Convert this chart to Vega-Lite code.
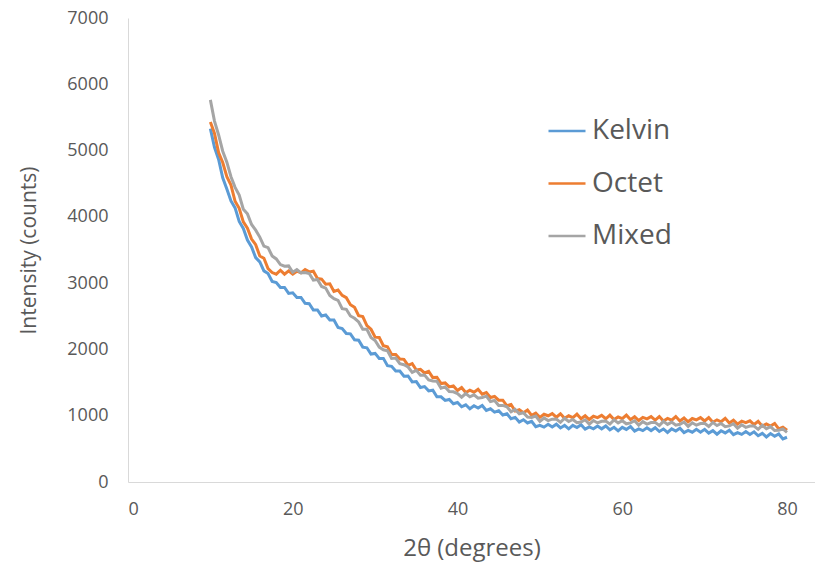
{
  "$schema": "https://vega.github.io/schema/vega-lite/v6.json",
  "width": 687,
  "height": 464,
  "autosize": "none",
  "padding": {"left": 128, "top": 18, "right": 0, "bottom": 84},
  "background": "white",
  "config": {
    "view": {"stroke": null},
    "font": "Open Sans",
    "axis": {
      "domainColor": "#d9d9d9",
      "domainWidth": 1,
      "ticks": false,
      "grid": false,
      "labelColor": "#595959",
      "labelFont": "Open Sans",
      "labelFontSize": 18,
      "titleColor": "#595959",
      "titleFont": "Open Sans",
      "titleFontWeight": "normal"
    },
    "legend": {
      "labelFont": "Open Sans",
      "labelFontSize": 28,
      "labelColor": "#595959"
    }
  },
  "data": {
    "values": [
      {"t":10,"Kelvin":5330,"Octet":5430,"Mixed":5765},
      {"t":10.5,"Kelvin":5050,"Octet":5260,"Mixed":5445},
      {"t":11,"Kelvin":4865,"Octet":4970,"Mixed":5235},
      {"t":11.5,"Kelvin":4590,"Octet":4820,"Mixed":4990},
      {"t":12,"Kelvin":4420,"Octet":4605,"Mixed":4825},
      {"t":12.5,"Kelvin":4240,"Octet":4480,"Mixed":4605},
      {"t":13,"Kelvin":4135,"Octet":4235,"Mixed":4445},
      {"t":13.5,"Kelvin":3930,"Octet":4130,"Mixed":4330},
      {"t":14,"Kelvin":3825,"Octet":3925,"Mixed":4115},
      {"t":14.5,"Kelvin":3650,"Octet":3830,"Mixed":4045},
      {"t":15,"Kelvin":3545,"Octet":3665,"Mixed":3885},
      {"t":15.5,"Kelvin":3385,"Octet":3580,"Mixed":3800},
      {"t":16,"Kelvin":3320,"Octet":3410,"Mixed":3695},
      {"t":16.5,"Kelvin":3185,"Octet":3375,"Mixed":3560},
      {"t":17,"Kelvin":3145,"Octet":3220,"Mixed":3535},
      {"t":17.5,"Kelvin":3025,"Octet":3160,"Mixed":3410},
      {"t":18,"Kelvin":3010,"Octet":3135,"Mixed":3365},
      {"t":18.5,"Kelvin":2935,"Octet":3195,"Mixed":3280},
      {"t":19,"Kelvin":2935,"Octet":3135,"Mixed":3255},
      {"t":19.5,"Kelvin":2845,"Octet":3185,"Mixed":3260},
      {"t":20,"Kelvin":2855,"Octet":3135,"Mixed":3165},
      {"t":20.5,"Kelvin":2785,"Octet":3180,"Mixed":3205},
      {"t":21,"Kelvin":2785,"Octet":3155,"Mixed":3155},
      {"t":21.5,"Kelvin":2695,"Octet":3205,"Mixed":3160},
      {"t":22,"Kelvin":2690,"Octet":3170,"Mixed":3145},
      {"t":22.5,"Kelvin":2595,"Octet":3180,"Mixed":3045},
      {"t":23,"Kelvin":2595,"Octet":3070,"Mixed":3055},
      {"t":23.5,"Kelvin":2505,"Octet":3060,"Mixed":2950},
      {"t":24,"Kelvin":2520,"Octet":2985,"Mixed":2925},
      {"t":24.5,"Kelvin":2445,"Octet":2990,"Mixed":2815},
      {"t":25,"Kelvin":2445,"Octet":2875,"Mixed":2765},
      {"t":25.5,"Kelvin":2330,"Octet":2895,"Mixed":2740},
      {"t":26,"Kelvin":2315,"Octet":2815,"Mixed":2615},
      {"t":26.5,"Kelvin":2240,"Octet":2780,"Mixed":2605},
      {"t":27,"Kelvin":2235,"Octet":2675,"Mixed":2505},
      {"t":27.5,"Kelvin":2145,"Octet":2635,"Mixed":2470},
      {"t":28,"Kelvin":2140,"Octet":2510,"Mixed":2415},
      {"t":28.5,"Kelvin":2035,"Octet":2495,"Mixed":2305},
      {"t":29,"Kelvin":2025,"Octet":2360,"Mixed":2305},
      {"t":29.5,"Kelvin":1930,"Octet":2305,"Mixed":2180},
      {"t":30,"Kelvin":1940,"Octet":2185,"Mixed":2135},
      {"t":30.5,"Kelvin":1865,"Octet":2180,"Mixed":2035},
      {"t":31,"Kelvin":1865,"Octet":2055,"Mixed":1995},
      {"t":31.5,"Kelvin":1755,"Octet":2040,"Mixed":1980},
      {"t":32,"Kelvin":1745,"Octet":1925,"Mixed":1865},
      {"t":32.5,"Kelvin":1675,"Octet":1925,"Mixed":1870},
      {"t":33,"Kelvin":1675,"Octet":1855,"Mixed":1785},
      {"t":33.5,"Kelvin":1595,"Octet":1850,"Mixed":1770},
      {"t":34,"Kelvin":1600,"Octet":1760,"Mixed":1735},
      {"t":34.5,"Kelvin":1510,"Octet":1785,"Mixed":1655},
      {"t":35,"Kelvin":1515,"Octet":1690,"Mixed":1685},
      {"t":35.5,"Kelvin":1425,"Octet":1700,"Mixed":1610},
      {"t":36,"Kelvin":1440,"Octet":1645,"Mixed":1615},
      {"t":36.5,"Kelvin":1375,"Octet":1670,"Mixed":1540},
      {"t":37,"Kelvin":1385,"Octet":1575,"Mixed":1525},
      {"t":37.5,"Kelvin":1285,"Octet":1580,"Mixed":1520},
      {"t":38,"Kelvin":1285,"Octet":1485,"Mixed":1415},
      {"t":38.5,"Kelvin":1230,"Octet":1495,"Mixed":1435},
      {"t":39,"Kelvin":1245,"Octet":1435,"Mixed":1365},
      {"t":39.5,"Kelvin":1180,"Octet":1450,"Mixed":1360},
      {"t":40,"Kelvin":1200,"Octet":1380,"Mixed":1335},
      {"t":40.5,"Kelvin":1135,"Octet":1425,"Mixed":1280},
      {"t":41,"Kelvin":1165,"Octet":1350,"Mixed":1335},
      {"t":41.5,"Kelvin":1105,"Octet":1385,"Mixed":1285},
      {"t":42,"Kelvin":1150,"Octet":1355,"Mixed":1315},
      {"t":42.5,"Kelvin":1115,"Octet":1400,"Mixed":1265},
      {"t":43,"Kelvin":1155,"Octet":1325,"Mixed":1275},
      {"t":43.5,"Kelvin":1080,"Octet":1350,"Mixed":1295},
      {"t":44,"Kelvin":1105,"Octet":1275,"Mixed":1215},
      {"t":44.5,"Kelvin":1055,"Octet":1290,"Mixed":1230},
      {"t":45,"Kelvin":1075,"Octet":1235,"Mixed":1155},
      {"t":45.5,"Kelvin":1010,"Octet":1235,"Mixed":1155},
      {"t":46,"Kelvin":1030,"Octet":1150,"Mixed":1135},
      {"t":46.5,"Kelvin":955,"Octet":1170,"Mixed":1060},
      {"t":47,"Kelvin":975,"Octet":1070,"Mixed":1095},
      {"t":47.5,"Kelvin":905,"Octet":1090,"Mixed":1030},
      {"t":48,"Kelvin":940,"Octet":1045,"Mixed":1045},
      {"t":48.5,"Kelvin":890,"Octet":1085,"Mixed":980},
      {"t":49,"Kelvin":915,"Octet":1005,"Mixed":975},
      {"t":49.5,"Kelvin":835,"Octet":1040,"Mixed":995},
      {"t":50,"Kelvin":855,"Octet":975,"Mixed":915},
      {"t":50.5,"Kelvin":828,"Octet":1022,"Mixed":966},
      {"t":51,"Kelvin":871,"Octet":999,"Mixed":927},
      {"t":51.5,"Kelvin":829,"Octet":1031,"Mixed":948},
      {"t":52,"Kelvin":872,"Octet":978,"Mixed":949},
      {"t":52.5,"Kelvin":815,"Octet":1030,"Mixed":900},
      {"t":53,"Kelvin":853,"Octet":962,"Mixed":961},
      {"t":53.5,"Kelvin":801,"Octet":999,"Mixed":912},
      {"t":54,"Kelvin":854,"Octet":971,"Mixed":943},
      {"t":54.5,"Kelvin":822,"Octet":1023,"Mixed":894},
      {"t":55,"Kelvin":865,"Octet":955,"Mixed":905},
      {"t":55.5,"Kelvin":797,"Octet":999,"Mixed":939},
      {"t":56,"Kelvin":830,"Octet":943,"Mixed":873},
      {"t":56.5,"Kelvin":802,"Octet":992,"Mixed":927},
      {"t":57,"Kelvin":845,"Octet":971,"Mixed":891},
      {"t":57.5,"Kelvin":802,"Octet":1005,"Mixed":915},
      {"t":58,"Kelvin":845,"Octet":954,"Mixed":919},
      {"t":58.5,"Kelvin":787,"Octet":1008,"Mixed":873},
      {"t":59,"Kelvin":825,"Octet":942,"Mixed":937},
      {"t":59.5,"Kelvin":772,"Octet":981,"Mixed":891},
      {"t":60,"Kelvin":825,"Octet":955,"Mixed":925},
      {"t":60.5,"Kelvin":793,"Octet":1008,"Mixed":878},
      {"t":61,"Kelvin":836,"Octet":941,"Mixed":891},
      {"t":61.5,"Kelvin":769,"Octet":984,"Mixed":924},
      {"t":62,"Kelvin":802,"Octet":927,"Mixed":857},
      {"t":62.5,"Kelvin":775,"Octet":975,"Mixed":910},
      {"t":63,"Kelvin":818,"Octet":953,"Mixed":873},
      {"t":63.5,"Kelvin":776,"Octet":986,"Mixed":896},
      {"t":64,"Kelvin":819,"Octet":934,"Mixed":899},
      {"t":64.5,"Kelvin":762,"Octet":987,"Mixed":852},
      {"t":65,"Kelvin":800,"Octet":920,"Mixed":915},
      {"t":65.5,"Kelvin":748,"Octet":959,"Mixed":869},
      {"t":66,"Kelvin":801,"Octet":933,"Mixed":903},
      {"t":66.5,"Kelvin":769,"Octet":987,"Mixed":857},
      {"t":67,"Kelvin":812,"Octet":921,"Mixed":871},
      {"t":67.5,"Kelvin":745,"Octet":965,"Mixed":905},
      {"t":68,"Kelvin":778,"Octet":909,"Mixed":839},
      {"t":68.5,"Kelvin":751,"Octet":958,"Mixed":893},
      {"t":69,"Kelvin":794,"Octet":937,"Mixed":857},
      {"t":69.5,"Kelvin":752,"Octet":971,"Mixed":881},
      {"t":70,"Kelvin":795,"Octet":920,"Mixed":885},
      {"t":70.5,"Kelvin":737,"Octet":971,"Mixed":837},
      {"t":71,"Kelvin":774,"Octet":902,"Mixed":899},
      {"t":71.5,"Kelvin":721,"Octet":938,"Mixed":851},
      {"t":72,"Kelvin":773,"Octet":909,"Mixed":883},
      {"t":72.5,"Kelvin":740,"Octet":960,"Mixed":835},
      {"t":73,"Kelvin":782,"Octet":891,"Mixed":847},
      {"t":73.5,"Kelvin":714,"Octet":932,"Mixed":879},
      {"t":74,"Kelvin":746,"Octet":873,"Mixed":811},
      {"t":74.5,"Kelvin":718,"Octet":919,"Mixed":863},
      {"t":75,"Kelvin":760,"Octet":895,"Mixed":825},
      {"t":75.5,"Kelvin":716,"Octet":923,"Mixed":845},
      {"t":76,"Kelvin":757,"Octet":867,"Mixed":845},
      {"t":76.5,"Kelvin":698,"Octet":915,"Mixed":795},
      {"t":77,"Kelvin":734,"Octet":843,"Mixed":855},
      {"t":77.5,"Kelvin":680,"Octet":877,"Mixed":805},
      {"t":78,"Kelvin":730,"Octet":845,"Mixed":835},
      {"t":78.5,"Kelvin":690,"Octet":883,"Mixed":777},
      {"t":79,"Kelvin":725,"Octet":800,"Mixed":780},
      {"t":79.5,"Kelvin":650,"Octet":828,"Mixed":802},
      {"t":80,"Kelvin":675,"Octet":780,"Mixed":750}
    ]
  },
  "transform": [
    {"fold": ["Kelvin", "Octet", "Mixed"], "as": ["series", "value"]}
  ],
  "mark": {"type": "line", "strokeWidth": 3, "clip": true},
  "encoding": {
    "x": {
      "field": "t",
      "type": "quantitative",
      "scale": {"domain": [0, 83.4], "nice": false, "zero": false},
      "axis": {
        "values": [0, 20, 40, 60, 80],
        "title": "2θ (degrees)",
        "titleFontSize": 24,
        "labelPadding": 18,
        "titlePadding": 18
      }
    },
    "y": {
      "field": "value",
      "type": "quantitative",
      "scale": {"domain": [0, 7000], "nice": false},
      "axis": {
        "values": [0, 1000, 2000, 3000, 4000, 5000, 6000, 7000],
        "format": "d",
        "title": "Intensity (counts)",
        "titleFontSize": 21,
        "labelPadding": 20,
        "titlePadding": 27
      }
    },
    "color": {
      "field": "series",
      "type": "nominal",
      "scale": {
        "domain": ["Kelvin", "Octet", "Mixed"],
        "range": ["#5B9BD5", "#ED7D31", "#A5A5A5"]
      },
      "legend": {
        "title": null,
        "orient": "none",
        "legendX": 419,
        "legendY": 93,
        "symbolType": "stroke",
        "symbolSize": 1369,
        "symbolStrokeWidth": 2.5,
        "rowPadding": 18.5,
        "labelOffset": 5
      }
    }
  }
}
